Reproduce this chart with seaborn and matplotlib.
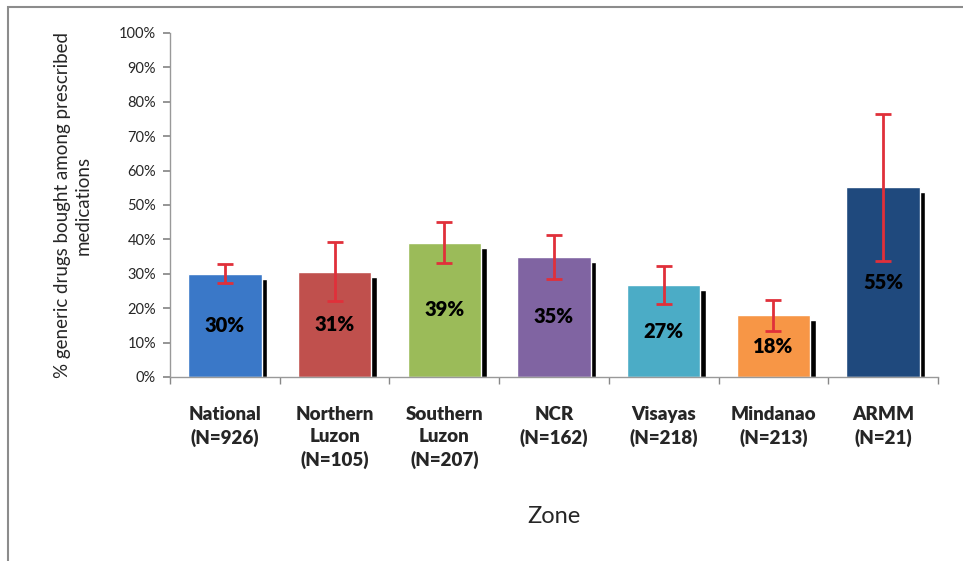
import pandas as pd
import matplotlib
matplotlib.use('Agg')
import matplotlib.pyplot as plt
import seaborn as sns
import numpy as np
from matplotlib.patches import Rectangle
from matplotlib.ticker import PercentFormatter

# datos
zonas = ["National\n(N=926)", "Northern\nLuzon\n(N=105)", "Southern\nLuzon\n(N=207)",
         "NCR\n(N=162)", "Visayas\n(N=218)", "Mindanao\n(N=213)", "ARMM\n(N=21)"]
porcentaje = [30.0, 30.5, 39.0, 34.9, 26.7, 18.0, 55.2]
ic_inferior = [27.2, 22.1, 33.0, 28.5, 21.3, 13.4, 33.8]
ic_superior = [32.8, 39.2, 45.1, 41.2, 32.3, 22.4, 76.4]
etiquetas = ["30%", "31%", "39%", "35%", "27%", "18%", "55%"]
colores = ["#3A78C8", "#C0504D", "#9BBB59", "#8064A2", "#4BACC6", "#F79646", "#1F497D"]

df = pd.DataFrame({"zona": zonas, "pct": porcentaje})

sns.set_theme(style="white")
plt.rcParams['font.family'] = ['Lato', 'DejaVu Sans']

fig = plt.figure(figsize=(9.63, 5.61), dpi=100)
ax = fig.add_axes([170 / 963, 1 - 377 / 561, 768 / 963, 344 / 561])

# sombra negra detrás de cada barra
x = np.arange(len(zonas))
ancho = 0.67
ax.bar(x + 0.05, np.array(porcentaje) - 1.5, width=ancho, color="black", zorder=1)

sns.barplot(data=df, x="zona", y="pct", hue="zona", palette=colores, legend=False,
            width=ancho, saturation=1, ax=ax, zorder=2)

# intervalos de confianza
err = [np.array(porcentaje) - np.array(ic_inferior), np.array(ic_superior) - np.array(porcentaje)]
ax.errorbar(x, porcentaje, yerr=err, fmt="none", ecolor="#E0303A", elinewidth=2,
            capsize=5.5, capthick=2, zorder=4)

for xi, v, t in zip(x, porcentaje, etiquetas):
    ax.text(xi, v / 2, t, ha="center", va="center", fontsize=14.5, fontweight="heavy",
            color="black", zorder=5)

ax.set_ylim(0, 100)
ax.set_xlim(-0.5, len(zonas) - 0.5)
ax.set_yticks(np.arange(0, 101, 10))
ax.yaxis.set_major_formatter(PercentFormatter(decimals=0))
ax.tick_params(axis="y", labelsize=10.5, length=5, color="#888888", direction="out",
               left=True, pad=5)
ax.set_xticks(x)
ax.set_xticklabels(zonas, fontsize=13.5, fontweight="heavy", linespacing=1.38)
ax.tick_params(axis="x", which="major", length=0, pad=21)
ax.set_xticks(np.arange(-0.5, len(zonas), 1), minor=True)
ax.tick_params(axis="x", which="minor", length=5, color="#888888", direction="out", bottom=True)

for lado in ["top", "right"]:
    ax.spines[lado].set_visible(False)
for lado in ["left", "bottom"]:
    ax.spines[lado].set_color("#999999")
    ax.spines[lado].set_linewidth(1)

ax.set_xlabel("Zone", fontsize=17, labelpad=26)
ax.set_ylabel("% generic drugs bought among prescribed\nmedications", fontsize=13.5,
              labelpad=20, linespacing=1.2)

# marco gris del área del gráfico
fig.patches.append(Rectangle((8 / 963, -0.1), 1.2, 1.1 - 7 / 561, transform=fig.transFigure,
                             fill=False, edgecolor="#8C8C8C", linewidth=1.5))

plt.savefig("out.png", dpi=100)
